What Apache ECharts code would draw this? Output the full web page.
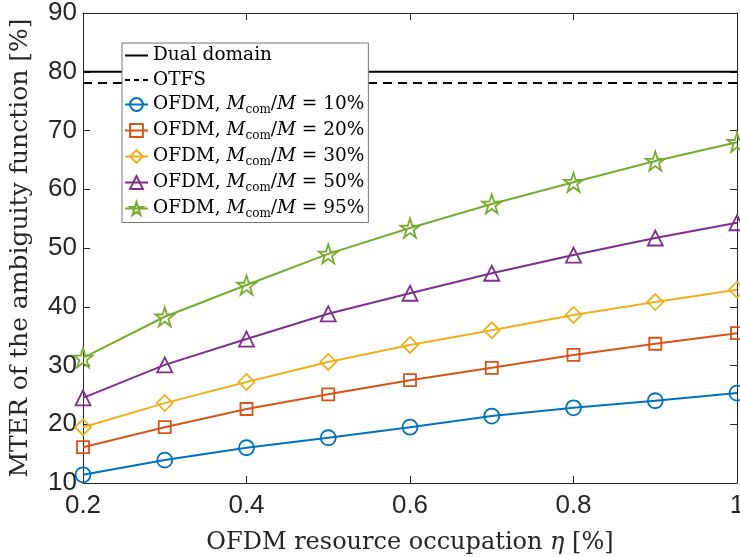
<!DOCTYPE html>
<html>
<head>
<meta charset="utf-8">
<script src="https://cdn.jsdelivr.net/npm/echarts@6/dist/echarts.min.js"></script>
<style>html,body{margin:0;padding:0;background:#fff}#c{width:740px;height:557px}</style>
</head>
<body>
<div id="c"></div>
<script>
const eta = [0.2, 0.3, 0.4, 0.5, 0.6, 0.7, 0.8, 0.9, 1.0];
const dualDomain = 80;
const otfs = 78.1;
const ofdm10 = [11.4, 13.9, 16.0, 17.7, 19.5, 21.4, 22.8, 24.0, 25.3];
const ofdm20 = [16.1, 19.5, 22.6, 25.1, 27.5, 29.6, 31.8, 33.7, 35.5];
const ofdm30 = [19.5, 23.6, 27.2, 30.6, 33.5, 36.0, 38.6, 40.8, 42.9];
const ofdm50 = [24.5, 30.1, 34.5, 38.8, 42.3, 45.7, 48.8, 51.7, 54.3];
const ofdm95 = [31.3, 38.3, 43.7, 49.0, 53.4, 57.5, 61.2, 64.8, 68.0];
const ratios = ['10%', '20%', '30%', '50%', '95%'];
const xTicks = [0.2, 0.4, 0.6, 0.8, 1];
const yTicks = [10, 20, 30, 40, 50, 60, 70, 80, 90];

const colors = ['#0072BD', '#D95319', '#EDB120', '#7E2F8E', '#77AC30'];
const symbols = ['circle', 'rect', 'diamond', 'triangle',
  'path://M50,0 L61.2,34.5 L97.6,34.5 L68.2,55.9 L79.4,90.5 L50,69.1 L20.6,90.5 L31.8,55.9 L2.4,34.5 L38.8,34.5 Z'];
const sizes = [15, 12, 16, 15, 19];
const ofdmData = [ofdm10, ofdm20, ofdm30, ofdm50, ofdm95];

const serif = 'DejaVu Serif';
const sans = 'Liberation Sans';

const series = [
  { name: 'Dual domain', type: 'line', data: [[eta[0], dualDomain], [eta[eta.length - 1], dualDomain]],
    symbol: 'none', lineStyle: { color: '#000', width: 2, type: 'solid' }, itemStyle: { color: '#000' }, z: 1 },
  { name: 'OTFS', type: 'line', data: [[eta[0], otfs], [eta[eta.length - 1], otfs]],
    symbol: 'none', lineStyle: { color: '#000', width: 2, type: [9, 6] }, itemStyle: { color: '#000' }, z: 1 }
];
ofdmData.forEach((d, i) => {
  series.push({
    name: 'OFDM ' + ratios[i], type: 'line',
    data: d.map((v, k) => [eta[k], v]),
    symbol: symbols[i], symbolSize: sizes[i], showAllSymbol: true,
    lineStyle: { color: colors[i], width: 2 },
    itemStyle: { color: 'rgba(255,255,255,0)', borderColor: colors[i], borderWidth: 1.8 },
    emphasis: { disabled: true }, z: 2
  });
});

const legendData = series.map((s, i) => {
  if (i === 0) return { name: s.name, itemStyle: { opacity: 0 }, lineStyle: { type: 'solid', width: 2, color: '#000' } };
  if (i === 1) return { name: s.name, itemStyle: { opacity: 0 }, lineStyle: { type: [5, 4], width: 2, color: '#000' } };
  return { name: s.name };
});

const chart = echarts.init(document.getElementById('c'));
chart.setOption({
  animation: false,
  backgroundColor: '#fff',
  grid: { left: 83, right: 3, top: 13, bottom: 74, containLabel: false, outerBoundsMode: 'none' },
  legend: {
    orient: 'vertical', left: 122, top: 43,
    backgroundColor: '#fff', borderColor: '#777', borderWidth: 1,
    padding: [3, 4, 3, 2], itemGap: 5.5, itemWidth: 23, itemHeight: 16,
    data: legendData,
    formatter: function (name) {
      if (name.indexOf('OFDM') === 0) {
        const r = name.split(' ')[1];
        return '{n|OFDM, }{i|M}{s|com}{n|/}{i|M}{n| = ' + r + '}';
      }
      return '{n|' + name + '}';
    },
    textStyle: {
      color: '#000',
      rich: {
        n: { fontFamily: serif, fontSize: 18.5, lineHeight: 22, color: '#000' },
        i: { fontFamily: serif, fontSize: 18.5, fontStyle: 'italic', lineHeight: 22, color: '#000' },
        s: { fontFamily: serif, fontSize: 12, lineHeight: 12, verticalAlign: 'bottom', color: '#000' }
      }
    }
  },
  xAxis: [{
    type: 'value', min: 0.2, max: 1, interval: 0.2, position: 'bottom',
    name: 'OFDM resource occupation {i|η} [%]', nameLocation: 'middle', nameGap: 48,
    nameTextStyle: { fontFamily: serif, fontSize: 24, color: '#262626',
      rich: { i: { fontFamily: serif, fontSize: 24, fontStyle: 'italic', color: '#262626' } } },
    axisLine: { show: true, lineStyle: { color: '#262626', width: 1 } },
    axisTick: { show: true, inside: true, length: 7, lineStyle: { color: '#262626' } },
    axisLabel: { fontFamily: sans, fontSize: 26, color: '#262626', margin: 10,
      formatter: v => (Math.abs(v - 1) < 1e-9 ? '1' : v.toFixed(1)) },
    splitLine: { show: false }
  }, {
    type: 'value', min: 0.2, max: 1, interval: 0.2, position: 'top',
    axisLine: { show: true, lineStyle: { color: '#262626', width: 1 } },
    axisTick: { show: true, inside: true, length: 7, lineStyle: { color: '#262626' } },
    axisLabel: { show: false }, splitLine: { show: false }
  }],
  yAxis: [{
    type: 'value', min: 10, max: 90, interval: 10, position: 'left',
    name: 'MTER of the ambiguity function [%]', nameLocation: 'middle', nameGap: 50,
    nameTextStyle: { fontFamily: serif, fontSize: 25, color: '#262626' },
    axisLine: { show: true, lineStyle: { color: '#262626', width: 1 } },
    axisTick: { show: true, inside: true, length: 7, lineStyle: { color: '#262626' } },
    axisLabel: { fontFamily: sans, fontSize: 26, color: '#262626', margin: 6 },
    splitLine: { show: false }
  }, {
    type: 'value', min: 10, max: 90, interval: 10, position: 'right',
    axisLine: { show: true, lineStyle: { color: '#262626', width: 1 } },
    axisTick: { show: true, inside: true, length: 7, lineStyle: { color: '#262626' } },
    axisLabel: { show: false }, splitLine: { show: false }
  }],
  series: series
});
</script>
</body>
</html>
